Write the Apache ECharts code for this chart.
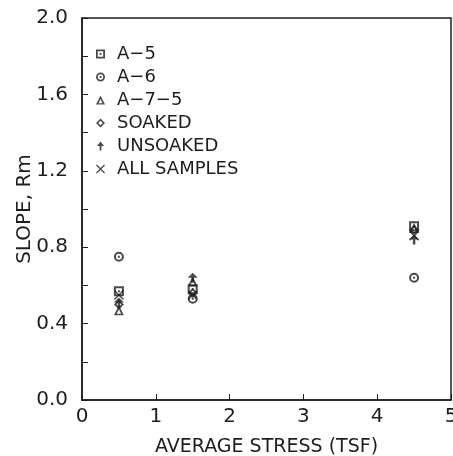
<!DOCTYPE html>
<html>
<head>
<meta charset="utf-8">
<script src="https://cdn.jsdelivr.net/npm/echarts@6/dist/echarts.min.js"></script>
<style>
  html, body { margin: 0; padding: 0; background: #fff; }
  #main { width: 453px; height: 456px; }
</style>
</head>
<body>
<div id="main"></div>
<script>
// stress values (TSF) where samples were tested
var stress = [0.5, 1.5, 4.5];
// slope Rm for each group
var a5 = [0.57, 0.58, 0.91];
var a6 = [0.75, 0.53, 0.64];
var a75 = [0.47, 0.62, 0.90];
var soaked = [0.50, 0.56, 0.89];
var unsoaked = [0.51, 0.64, 0.84];
var allSamples = [0.55, 0.55, 0.86];
var names = ['A\u22125', 'A\u22126', 'A\u22127\u22125', 'SOAKED', 'UNSOAKED', 'ALL SAMPLES'];

var ink = '#1e1e1e';
var font = '"DejaVu Sans", sans-serif';

// marker shapes
var sym = [
  'path://M0,0H10V10H0Z M2,2V8H8V2Z M4,4H6V6H4Z',
  'path://M5,0A5,5 0 1,0 5,10A5,5 0 1,0 5,0Z M5,2A3,3 0 1,1 5,8A3,3 0 1,1 5,2Z M4,4H6V6H4Z',
  'path://M5,0L10,10H0Z M5,4L2.8,8.5H7.2Z',
  'path://M5,0L10,5L5,10L0,5Z M5,2.5L2.5,5L5,7.5L7.5,5Z',
  'path://M5,0L9,5H6V10H4V5H1Z',
  'path://M0,1L1,0L5,4L9,0L10,1L6,5L10,9L9,10L5,6L1,10L0,9L4,5Z'
];
var sets = [a5, a6, a75, soaked, unsoaked, allSamples];

function pairs(ys) {
  var out = [];
  for (var i = 0; i < stress.length; i++) out.push([stress[i], ys[i]]);
  return out;
}

var series = [];
for (var k = 0; k < names.length; k++) {
  series.push({
    name: names[k],
    type: 'scatter',
    symbol: sym[k],
    symbolSize: 10,
    itemStyle: { color: ink },
    data: pairs(sets[k])
  });
}

var chart = echarts.init(document.getElementById('main'));
chart.setOption({
  animation: false,
  grid: { left: 82, right: 2, top: 18, bottom: 56, outerBoundsMode: 'none', containLabel: false,
    show: true, borderColor: ink, borderWidth: 1.5 },
  legend: {
    orient: 'vertical',
    left: 91, top: 40,
    itemWidth: 9, itemHeight: 9, itemGap: 5,
    textStyle: { fontFamily: font, fontSize: 18, color: ink, padding: [0, 0, 0, 7] },
    data: names
  },
  xAxis: {
    type: 'value', min: 0, max: 5, interval: 1,
    name: 'AVERAGE STRESS (TSF)', nameLocation: 'middle', nameGap: 38, nameMoveOverlap: false,
    nameTextStyle: { fontFamily: font, fontSize: 19, color: ink },
    axisLine: { lineStyle: { color: ink, width: 1.5 } },
    axisTick: { inside: true, length: 6, lineStyle: { color: ink } },
    axisLabel: { fontFamily: font, fontSize: 20, color: ink, margin: 7 },
    splitLine: { show: false }
  },
  yAxis: {
    type: 'value', min: 0, max: 2, interval: 0.4,
    name: 'SLOPE, Rm', nameLocation: 'middle', nameGap: 47, nameMoveOverlap: false,
    nameTextStyle: { fontFamily: font, fontSize: 20, color: ink },
    axisLine: { lineStyle: { color: ink, width: 1.5 } },
    axisTick: { inside: true, length: 6, lineStyle: { color: ink } },
    minorTick: { show: true, splitNumber: 2, length: 6, lineStyle: { color: ink } },
    axisLabel: { fontFamily: font, fontSize: 20, color: ink, margin: 14,
      formatter: function (v) { return v.toFixed(1); } },
    splitLine: { show: false }
  },
  series: series
});
</script>
</body>
</html>
